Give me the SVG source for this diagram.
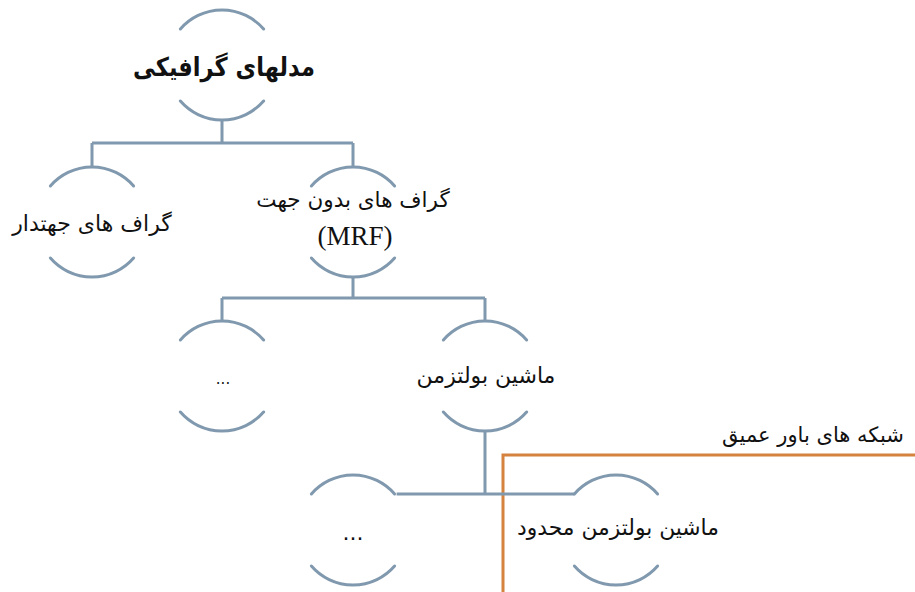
<svg xmlns="http://www.w3.org/2000/svg" width="915" height="592" viewBox="0 0 915 592">
  <defs>
    <style>
      .arc { fill: none; stroke: #8099AE; stroke-width: 3; stroke-linecap: round; }
      .link { fill: none; stroke: #8099AE; stroke-width: 3; }
      .fa { font-family: "DejaVu Sans", "Noto Sans", sans-serif; fill: #111; text-anchor: middle; }
      .lat { font-family: "Liberation Serif", "Times New Roman", serif; fill: #111; text-anchor: middle; }
      .group { fill: none; stroke: #D4823D; stroke-width: 3; }
    </style>
    <!-- node outline: top and bottom arcs of a circle, r = 55, centred on 0,0 -->
    <g id="bracket">
      <path class="arc" d="M-41.6,-36 A55,55 0 0 1 41.6,-36"/>
      <path class="arc" d="M-41.6,36 A55,55 0 0 0 41.6,36"/>
    </g>
  </defs>

  <rect width="915" height="592" fill="#ffffff"/>

  <!-- highlighted sub-tree frame -->
  <g id="dbn-frame">
    <path class="group" d="M503,595 V455 H918"/>
    <text class="fa" x="813" y="442" font-size="21">شبکه های باور عمیق</text>
  </g>

  <!-- connectors -->
  <g id="connectors">
    <path class="link" d="M222,120 V143 M92,143 H353 M92,143 V167 M353,143 V167"/>
    <path class="link" d="M353,277 V298 M222,298 H485 M222,298 V321 M485,298 V321"/>
    <path class="link" d="M485,431 V494 M396.6,494 H574.4"/>
  </g>

  <g id="graphical-models">
    <use href="#bracket" x="222" y="65"/>
    <text class="fa" x="224" y="76" font-size="26" font-weight="bold" textLength="182" lengthAdjust="spacingAndGlyphs">مدلهای گرافیکی</text>
  </g>

  <g id="directed-graphs">
    <use href="#bracket" x="92" y="222"/>
    <text class="fa" x="92" y="231" font-size="22">گراف های جهتدار</text>
  </g>

  <g id="undirected-graphs">
    <use href="#bracket" x="353" y="222"/>
    <text class="fa" x="353" y="207" font-size="21.5">گراف های بدون جهت</text>
    <text class="lat" x="355" y="245" font-size="27">(MRF)</text>
  </g>

  <g id="other-mrf">
    <use href="#bracket" x="222" y="376"/>
    <text class="fa" x="223" y="384" font-size="15">...</text>
  </g>

  <g id="boltzmann">
    <use href="#bracket" x="485" y="376"/>
    <text class="fa" x="486" y="383" font-size="22">ماشین بولتزمن</text>
  </g>

  <g id="other-boltzmann">
    <use href="#bracket" x="353" y="530"/>
    <text class="fa" x="353" y="540" font-size="22">...</text>
  </g>

  <g id="rbm">
    <use href="#bracket" x="616" y="530"/>
    <text class="fa" x="618" y="535" font-size="21.8">ماشین بولتزمن محدود</text>
  </g>
</svg>
